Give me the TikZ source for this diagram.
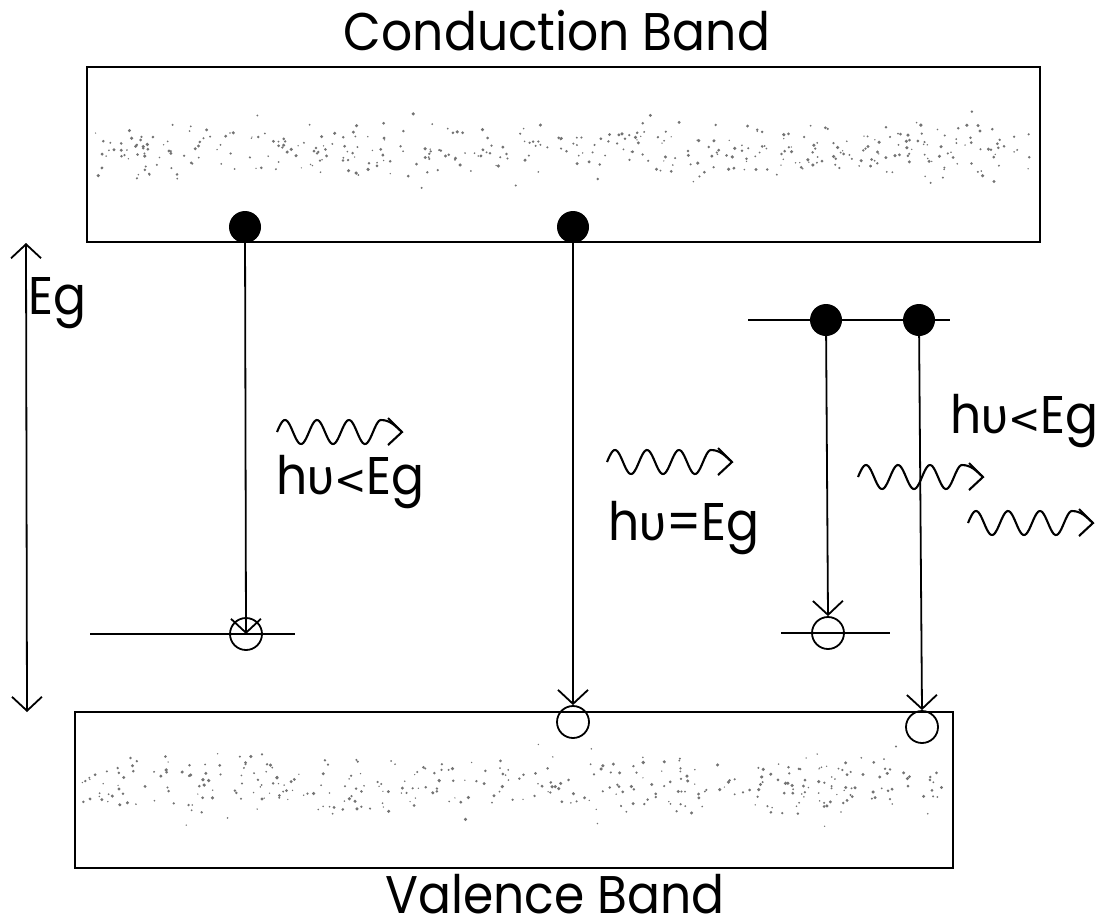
\documentclass[tikz,border=0pt]{standalone}
\usepackage{fontspec}
\setmainfont{Poppins}
\newfontfamily\gkfont{Lato}
\newfontfamily\symfont{DejaVu Sans}
\usetikzlibrary{arrows.meta}
\tikzset{
  band/.style={draw, line width=1.3pt},
  elec/.style={circle, fill=black, inner sep=0pt, minimum size=16pt},
  hole/.style={circle, draw, line width=0.9pt, inner sep=0pt, minimum size=16pt},
  lvl/.style={line width=0.9pt},
  barb/.tip={Straight Barb[length=7pt,width=15pt]},
  trans/.style={line width=0.9pt, -barb},
  lbl/.style={font=\fontsize{26.5}{30}\selectfont, inner sep=0pt, xscale=0.92},
  speck/.style={fill=black!55},
  wave/.style={line width=1.05pt},
}
\newcommand\hv{h{\gkfont υ}}
\newcommand\lt{{\symfont\fontsize{21}{26}\selectfont<}}
\newcommand\photon[1]{%
  \begin{scope}[shift={#1}]
    \draw[wave] plot[domain=0:3.25, samples=90, smooth] ({\x*32},{-12*sin(\x*360)})
      .. controls (114,-12) and (119,-5) .. (125,0);
    \draw[wave] (111,-14) -- (125,0) -- (111,13);
  \end{scope}}
\begin{document}
\begin{tikzpicture}[x=0.5pt, y=-0.5pt]
  \useasboundingbox (0,0) rectangle (1108,923);
  % bands
  \draw[band] (87,67) rectangle (1040,242);
  \draw[band] (75,712) rectangle (953,868);
  % speckles
  \pgfmathsetseed{12}
  \foreach \i in {1,...,420}{
    \pgfmathsetmacro\xx{92+940*rnd}
    \pgfmathsetmacro\yy{150+24*(rnd+rnd+rnd+rnd-2)}
    \pgfmathsetmacro\rr{0.35+0.55*rnd}
    \fill[speck] (\xx,\yy) circle (\rr pt);
  }
  \foreach \i in {1,...,380}{
    \pgfmathsetmacro\xx{80+865*rnd}
    \pgfmathsetmacro\yy{785+26*(rnd+rnd+rnd+rnd-2)}
    \pgfmathsetmacro\rr{0.35+0.55*rnd}
    \fill[speck] (\xx,\yy) circle (\rr pt);
  }
  % labels
  \node[lbl, anchor=base] (cb) at (557,50) {Conduction Band};
  \node[lbl, anchor=base] (vb) at (555,913) {Valence Band};
  \node[lbl, anchor=base west] (eg) at (28,314) {Eg};
  \node[lbl, anchor=base west] (t1) at (276,494) {\hv\lt Eg};
  \node[lbl, anchor=base west] (t2) at (608,540) {\hv=Eg};
  \node[lbl, anchor=base west] (t3) at (950,433) {\hv\lt Eg};
  % Eg arrow
  \coordinate (egtop) at (26,243);
  \coordinate (egbot) at (27,712);
  \draw[line width=0.9pt, barb-barb] (egtop) -- (egbot);
  % levels
  \coordinate (l1a) at (90,634); \coordinate (l1b) at (295,634);
  \coordinate (l2a) at (781,633); \coordinate (l2b) at (890,633);
  \coordinate (l3a) at (748,320); \coordinate (l3b) at (950,320);
  \draw[lvl] (l1a) -- (l1b);
  \draw[lvl] (l2a) -- (l2b);
  \draw[lvl] (l3a) -- (l3b);
  % electrons and holes
  \node[elec] (e1) at (245,227) {};
  \node[elec] (e2) at (573,227) {};
  \node[elec] (e3) at (826,320) {};
  \node[elec] (e4) at (919,320) {};
  \node[hole] (h1) at (246,634) {};
  \node[hole] (h2) at (573,722) {};
  \node[hole] (h3) at (828,633) {};
  \node[hole] (h4) at (922,727) {};
  % transitions
  \draw[trans] (e1.center) -- (h1.center);
  \draw[trans] (e2.center) -- (h2.north);
  \draw[trans] (e3.center) -- (h3.north);
  \draw[trans] (e4.center) -- (h4.north);
  % photons
  \photon{(277,432)}
  \photon{(607,462)}
  \photon{(858,477)}
  \photon{(968,523)}
\end{tikzpicture}
\end{document}
